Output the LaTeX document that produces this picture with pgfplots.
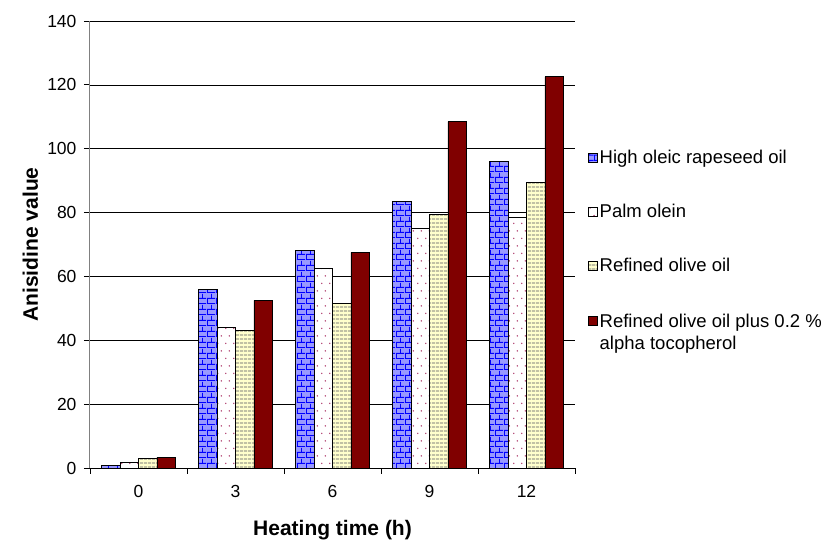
\documentclass[border=0pt]{standalone}
\usepackage{fontspec}
\setmainfont{Liberation Sans}
\usepackage{pgfplots}
\pgfplotsset{compat=1.18}
\usetikzlibrary{patterns}
\definecolor{brickfill}{HTML}{9999FF}
\definecolor{brickline}{HTML}{0000FF}
\definecolor{dotcol}{HTML}{B04070}
\definecolor{olivefill}{HTML}{FFFFCC}
\definecolor{olivel}{HTML}{A0A090}
\definecolor{darkred}{HTML}{800000}
\pgfdeclarepatternformonly{mybricks}{\pgfqpoint{0pt}{0pt}}{\pgfqpoint{9pt}{10.6pt}}{\pgfqpoint{9pt}{10.6pt}}{%
  \pgfsetlinewidth{1pt}%
  \pgfpathmoveto{\pgfqpoint{0pt}{0.5pt}}\pgfpathlineto{\pgfqpoint{9pt}{0.5pt}}%
  \pgfpathmoveto{\pgfqpoint{0pt}{5.8pt}}\pgfpathlineto{\pgfqpoint{9pt}{5.8pt}}%
  \pgfpathmoveto{\pgfqpoint{0.5pt}{0.5pt}}\pgfpathlineto{\pgfqpoint{0.5pt}{5.8pt}}%
  \pgfpathmoveto{\pgfqpoint{5pt}{5.8pt}}\pgfpathlineto{\pgfqpoint{5pt}{10.6pt}}%
  \pgfpathmoveto{\pgfqpoint{5pt}{0pt}}\pgfpathlineto{\pgfqpoint{5pt}{0.5pt}}%
  \pgfusepath{stroke}}
\pgfdeclarepatternformonly{mydots}{\pgfqpoint{0pt}{0pt}}{\pgfqpoint{8pt}{15.4pt}}{\pgfqpoint{8pt}{15.4pt}}{%
  \pgfpathcircle{\pgfqpoint{2pt}{3.8pt}}{0.85pt}%
  \pgfpathcircle{\pgfqpoint{6pt}{11.5pt}}{0.85pt}%
  \pgfusepath{fill}}
\pgfdeclarepatternformonly{myhlines}{\pgfqpoint{0pt}{0pt}}{\pgfqpoint{4pt}{4.4pt}}{\pgfqpoint{4pt}{4.4pt}}{%
  \pgfsetlinewidth{1.3pt}%
  \pgfpathmoveto{\pgfqpoint{0pt}{2.2pt}}\pgfpathlineto{\pgfqpoint{4pt}{2.2pt}}%
  \pgfusepath{stroke}}
\begin{document}
\begin{tikzpicture}
\begin{axis}[
  scale only axis, width=485pt, height=447pt,
  ymin=0, ymax=140, ytick={0,20,...,140},
  xmin=-0.5, xmax=4.5,
  xtick={0,1,2,3,4}, xticklabels={0,3,6,9,12},
  major x tick style={draw=none},
  minor xtick={-0.5,0.5,1.5,2.5,3.5,4.5},
  minor x tick style={black, line width=0.8pt},
  major y tick style={black, line width=0.8pt},
  tick align=outside,
  major tick length=6pt, minor tick length=6pt,
  axis x line*=bottom, axis y line*=left,
  x axis line style={black, line width=0.8pt, -},
  y axis line style={gray, line width=1pt, -},
  ymajorgrids, grid style={black, line width=0.7pt},
  /pgf/number format/assume math mode=true,
  tick label style={font=\fontsize{17.5}{20}\selectfont},
  xticklabel style={yshift=-8pt},
  yticklabel style={xshift=-4pt},
  ylabel={\bfseries Anisidine value},
  xlabel={\bfseries Heating time (h)},
  label style={font=\fontsize{21}{24}\selectfont},
  ylabel style={at={(axis description cs:-0.10,0.5)}},
  xlabel style={at={(axis description cs:0.5,-0.108)}},
  ybar=0pt, bar width=0.19,
  legend style={draw=none, fill=none, at={(1.02,0.72)}, anchor=north west,
    font=\fontsize{18.5}{22}\selectfont, row sep=35pt,
    cells={anchor=west, align=left}},
  legend cell align=left,
  legend image code/.code={\draw[#1, line width=0.8pt] (0pt,-4.5pt) rectangle (9pt,4.5pt);},
]
\addplot[bar shift=-0.285, draw=black, line width=0.8pt, fill=brickfill,
  postaction={pattern=mybricks, pattern color=brickline}]
  coordinates {(0,0.8) (1,56) (2,68) (3,83.5) (4,96)};
\addlegendentry{High oleic rapeseed oil}
\addplot[bar shift=-0.095, draw=black, line width=0.8pt, fill=white,
  postaction={pattern=mydots, pattern color=dotcol}]
  coordinates {(0,1.6) (1,44) (2,62.5) (3,75) (4,78.5)};
\addlegendentry{Palm olein}
\addplot[bar shift=0.095, draw=black, line width=0.8pt, fill=olivefill,
  postaction={pattern=myhlines, pattern color=olivel}]
  coordinates {(0,3.0) (1,43) (2,51.5) (3,79.5) (4,89.5)};
\addlegendentry{Refined olive oil}
\addplot[bar shift=0.285, draw=black, line width=0.8pt, fill=darkred]
  coordinates {(0,3.4) (1,52.5) (2,67.5) (3,108.5) (4,122.5)};
\addlegendentry{\begin{tabular}[t]{@{}l@{}}Refined olive oil plus 0.2 \%\\alpha tocopherol\end{tabular}}
\end{axis}
\path ([xshift=-90pt,yshift=-74pt]current axis.south west) rectangle ([xshift=254pt,yshift=21pt]current axis.north east);
\end{tikzpicture}
\end{document}
